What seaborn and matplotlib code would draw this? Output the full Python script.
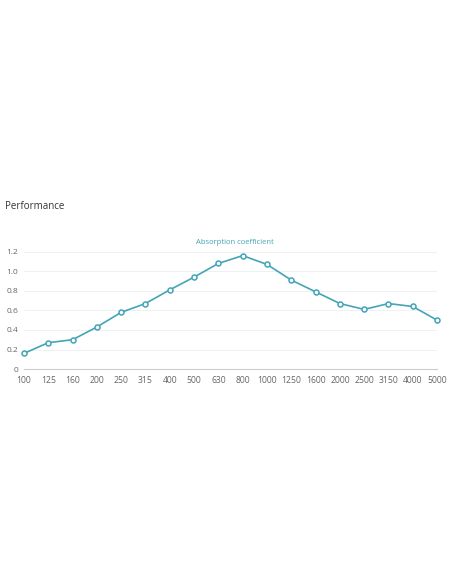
import pandas as pd
import seaborn as sns
import matplotlib.pyplot as plt

freqs = ['100', '125', '160', '200', '250', '315', '400', '500', '630', '800',
         '1000', '1250', '1600', '2000', '2500', '3150', '4000', '5000']
absorption = [0.16, 0.27, 0.30, 0.43, 0.58, 0.67, 0.81, 0.94, 1.08, 1.16,
              1.07, 0.91, 0.79, 0.67, 0.61, 0.67, 0.64, 0.50]
yticks = [0, 0.2, 0.4, 0.6, 0.8, 1.0, 1.2]

df = pd.DataFrame({'freq': freqs, 'alpha': absorption})

sns.set_style('white')
plt.rcParams['font.family'] = ['Open Sans', 'DejaVu Sans']

teal = '#43a5b6'
fig = plt.figure(figsize=(4.52, 5.84), dpi=100)
ax = fig.add_axes([0.053, 0.368, 0.914, 0.201])

sns.lineplot(x='freq', y='alpha', data=df, ax=ax, color=teal, linewidth=1.2,
             marker='o', markersize=3.6, markerfacecolor='white',
             markeredgecolor=teal, markeredgewidth=1.1, sort=False)

ax.set_xlim(0, len(freqs) - 1)
ax.set_ylim(0, 1.2)
ax.set_yticks(yticks)
ax.set_yticklabels(['0', '0.2', '0.4', '0.6', '0.8', '1.0', '1.2'])
ax.set_xlabel('')
ax.set_ylabel('')
ax.grid(axis='y', color='#f0f0f0', linewidth=0.7)
ax.set_axisbelow(True)
for s in ['top', 'right', 'left']:
    ax.spines[s].set_visible(False)
ax.spines['bottom'].set_color('#cccccc')
ax.spines['bottom'].set_linewidth(0.8)
ax.tick_params(axis='y', length=3, width=0.6, color='#cccccc', labelsize=6,
               labelcolor='#666666', pad=1)
ax.tick_params(axis='x', length=0, labelsize=6.2, labelcolor='#666666', pad=5)
for line in ax.lines:
    line.set_clip_on(False)

ax.text(0.51, 1.05, 'Absorption coefficient', transform=ax.transAxes,
        ha='center', va='bottom', fontsize=5.5, color=teal)
fig.text(0.011, 0.647, 'Performance', ha='left', va='center', fontsize=7,
         color='#333333')

fig.savefig('out.png', dpi=100)
